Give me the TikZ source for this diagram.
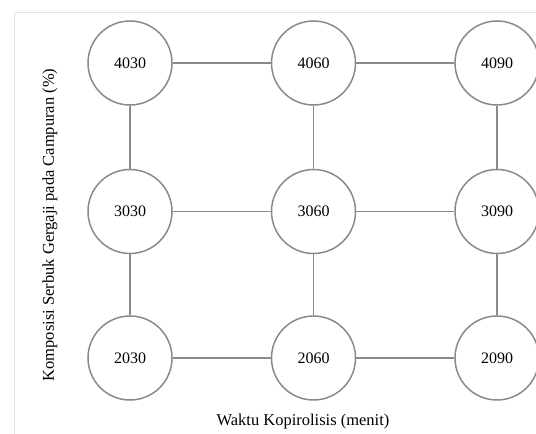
\documentclass[tikz,border=0pt]{standalone}
\usepackage{fontspec}
\setmainfont{Liberation Serif}
\usepackage{xcolor}
\usetikzlibrary{positioning}
\definecolor{edgegray}{HTML}{8A8A8A}
\definecolor{framegray}{HTML}{E2E2E2}
\tikzset{
  sample/.style={circle, draw=edgegray, line width=1.5pt, fill=white, minimum size=84pt, inner sep=0pt, font=\fontsize{16}{18}\selectfont},
  link/.style={draw=edgegray, line width=1.5pt},
  axislabel/.style={font=\fontsize{16.5}{19}\selectfont},
}

\begin{document}
\begin{tikzpicture}[x=1pt, y=1pt, node distance=98pt and 62pt]
\useasboundingbox (0,0) rectangle (536,434);
\draw[framegray, line width=1pt] (14,0) -- (14,421) -- (536,421);
% top row
\node[sample] (s4030) at (130,371) {4030};
\node[sample, right=98pt of s4030] (s4060) {4060};
\node[sample, right=98pt of s4060] (s4090) {4090};
% middle row
\node[sample, below=63pt of s4030] (s3030) {3030};
\node[sample, right=98pt of s3030] (s3060) {3060};
\node[sample, right=98pt of s3060] (s3090) {3090};
% bottom row
\node[sample, below=61pt of s3030] (s2030) {2030};
\node[sample, right=98pt of s2030] (s2060) {2060};
\node[sample, right=98pt of s2060] (s2090) {2090};
\draw[link] (s4030) -- (s4060) -- (s4090);
\draw[link] (s3030) -- (s3060) -- (s3090);
\draw[link] (s2030) -- (s2060) -- (s2090);
\draw[link] (s4030) -- (s3030) -- (s2030);
\draw[link] (s4060) -- (s3060) -- (s2060);
\draw[link] (s4090) -- (s3090) -- (s2090);
\node[axislabel] (xlab) at (303,12) {Waktu Kopirolisis (menit)};
\node[axislabel, rotate=90] (ylab) at (50,209) {Komposisi Serbuk Gergaji pada Campuran (\%)};
\end{tikzpicture}
\end{document}
